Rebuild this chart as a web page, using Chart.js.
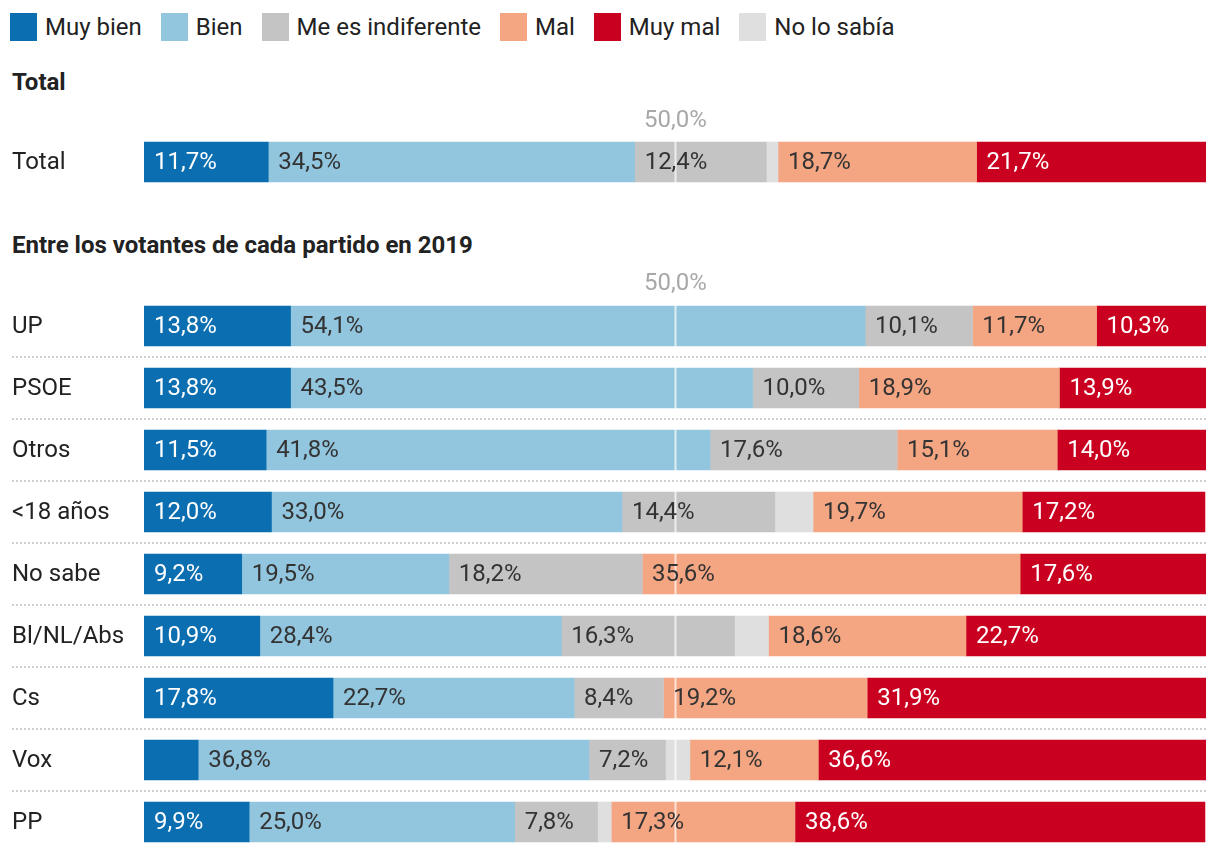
<!DOCTYPE html>
<html>
<head>
<meta charset="utf-8">
<script src="https://cdn.jsdelivr.net/npm/chart.js@4.4.1/dist/chart.umd.min.js"></script>
<style>
  body { margin: 0; background: #fff; font-family: Roboto, sans-serif; color: #222; }
  #wrap { position: relative; width: 1220px; height: 854px; }
  .legend { position: absolute; left: 10px; top: 12px; display: flex; align-items: center; font-size: 24px; line-height: 30px; }
  .legend span.item { display: flex; align-items: center; margin-right: 19px; }
  .legend i { display: inline-block; width: 27px; height: 28px; margin-right: 8px; }
  .head { position: absolute; left: 12px; font-size: 24px; font-weight: bold; line-height: 28px; }
  canvas { position: absolute; left: 0; }
</style>
</head>
<body>
<div id="wrap">
  <div class="legend" id="legend"></div>
  <div class="head" style="top:68px">Total</div>
  <div class="head" style="top:231px">Entre los votantes de cada partido en 2019</div>
  <canvas id="totalChart" style="top:100px" width="1220" height="100"></canvas>
  <canvas id="partyChart" style="top:262px" width="1220" height="592"></canvas>
</div>
<script>
// Datos
const seriesNames = ['Muy bien', 'Bien', 'Me es indiferente', 'No lo sabía', 'Mal', 'Muy mal'];
const seriesColors = ['#0a6eb0', '#92c5de', '#c4c4c4', '#dfdfdf', '#f4a582', '#ca0020'];
const legendOrder = ['Muy bien', 'Bien', 'Me es indiferente', 'Mal', 'Muy mal', 'No lo sabía'];

const totalLabels = ['Total'];
const totalMuyBien = [11.7];
const totalBien = [34.5];
const totalIndiferente = [12.4];
const totalNoLoSabia = [1.1];
const totalMal = [18.7];
const totalMuyMal = [21.7];

const categories = ['UP', 'PSOE', 'Otros', '<18 años', 'No sabe', 'Bl/NL/Abs', 'Cs', 'Vox', 'PP'];
const muyBien = [13.8, 13.8, 11.5, 12.0, 9.2, 10.9, 17.8, 5.1, 9.9];
const bien = [54.1, 43.5, 41.8, 33.0, 19.5, 28.4, 22.7, 36.8, 25.0];
const indiferente = [10.1, 10.0, 17.6, 14.4, 18.2, 16.3, 8.4, 7.2, 7.8];
const noLoSabia = [0, 0, 0, 3.6, 0, 3.2, 0, 2.3, 1.3];
const mal = [11.7, 18.9, 15.1, 19.7, 35.6, 18.6, 19.2, 12.1, 17.3];
const muyMal = [10.3, 13.9, 14.0, 17.2, 17.6, 22.7, 31.9, 36.6, 38.6];

const midValue = 50;

// Leyenda
const legendEl = document.getElementById('legend');
legendOrder.forEach(name => {
    const idx = seriesNames.indexOf(name);
    const item = document.createElement('span');
    item.className = 'item';
    item.innerHTML = '<i style="background:' + seriesColors[idx] + '"></i>' + name;
    legendEl.appendChild(item);
});

const fmt = v => v.toFixed(1).replace('.', ',') + '%';

function makeDatasets(values) {
    return values.map((data, i) => ({
        label: seriesNames[i],
        data: data,
        backgroundColor: seriesColors[i],
        borderWidth: 0,
        barThickness: 40,
        stack: 's'
    }));
}

// Etiquetas, línea del 50% y separadores
const overlay = {
    id: 'overlay',
    beforeDatasetsDraw(chart, args, opts) {
        const { ctx, chartArea, scales } = chart;
        const labels = chart.data.labels;
        ctx.save();
        ctx.font = '24px Roboto';
        ctx.fillStyle = '#222';
        ctx.textAlign = 'left';
        ctx.textBaseline = 'middle';
        labels.forEach((l, i) => ctx.fillText(l, 12, scales.y.getPixelForValue(i) + 1));

        if (opts.separators) {
            ctx.strokeStyle = '#cfcfcf';
            ctx.lineWidth = 2;
            ctx.setLineDash([2, 2]);
            for (let i = 1; i < labels.length; i++) {
                const y = Math.round((scales.y.getPixelForValue(i - 1) + scales.y.getPixelForValue(i)) / 2);
                ctx.beginPath();
                ctx.moveTo(12, y);
                ctx.lineTo(chartArea.right, y);
                ctx.stroke();
            }
        }
        ctx.restore();
    },
    afterDatasetsDraw(chart) {
        const { ctx, chartArea, scales } = chart;
        const xm = Math.round(scales.x.getPixelForValue(midValue)) + 0.5;
        ctx.save();
        ctx.strokeStyle = 'rgba(255,255,255,0.7)';
        ctx.lineWidth = 2;
        ctx.beginPath();
        ctx.moveTo(xm, chartArea.top);
        ctx.lineTo(xm, chartArea.bottom);
        ctx.stroke();

        ctx.font = '24px Roboto';
        ctx.fillStyle = '#a8a8a8';
        ctx.textAlign = 'center';
        ctx.textBaseline = 'middle';
        ctx.fillText(fmt(midValue), xm, chartArea.top - 11);

        ctx.textAlign = 'left';
        chart.data.datasets.forEach((ds, di) => {
            if (ds.label === 'No lo sabía') return;
            const meta = chart.getDatasetMeta(di);
            meta.data.forEach((bar, i) => {
                const v = ds.data[i];
                if (v < 6) return;
                ctx.fillStyle = (di === 0 || di === 5) ? '#ffffff' : '#333333';
                ctx.fillText(fmt(v), Math.min(bar.base, bar.x) + 10, bar.y + 1);
            });
        });
        ctx.restore();
    }
};

function makeChart(id, labels, values, padTop, padBottom, separators) {
    return new Chart(document.getElementById(id).getContext('2d'), {
        type: 'bar',
        data: { labels: labels, datasets: makeDatasets(values) },
        options: {
            indexAxis: 'y',
            responsive: false,
            animation: false,
            layout: { padding: { left: 144, right: 14, top: padTop, bottom: padBottom } },
            plugins: {
                legend: { display: false },
                tooltip: { enabled: false },
                overlay: { separators: separators }
            },
            scales: {
                x: { stacked: true, min: 0, max: 100, display: false },
                y: { stacked: true, display: false }
            }
        },
        plugins: [overlay]
    });
}

makeChart('totalChart', totalLabels,
    [totalMuyBien, totalBien, totalIndiferente, totalNoLoSabia, totalMal, totalMuyMal], 32, 8, false);
makeChart('partyChart', categories,
    [muyBien, bien, indiferente, noLoSabia, mal, muyMal], 33, 1, true);
</script>
</body>
</html>
